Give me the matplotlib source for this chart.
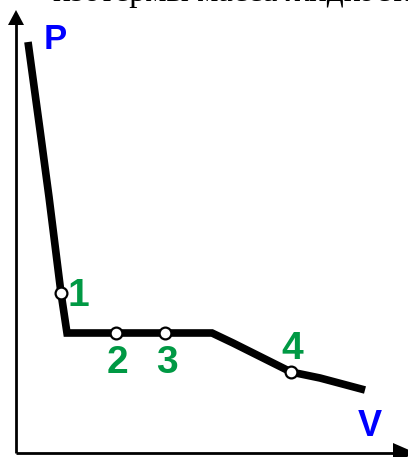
import matplotlib
matplotlib.use("Agg")
import matplotlib.pyplot as plt

curve_V = [12, 24, 33, 40, 45, 51, 196, 217, 237, 275, 304, 349]
curve_P = [411, 323, 256, 200, 160, 120, 120, 110, 100, 81, 75, 63]

state_names = ["1", "2", "3", "4"]
state_V = [45, 100, 149, 275]
state_P = [160, 120, 120, 81]

# where the state numbers sit (centre x, baseline)
label_V = [62, 101, 151, 276]
label_P = [147, 80, 80, 94]

header = "изотермы масса жидкости и пара"

GREEN = "#009944"
BLUE = "#0000ff"

fig = plt.figure(figsize=(4.08, 4.57), dpi=100)
ax = fig.add_axes([0, 0, 1, 1])
ax.set_xlim(-16, 392)
ax.set_ylim(-4, 453)
ax.axis("off")

# axes with arrow heads
P_TOP = 443
V_END = 400
ax.plot([0, 0], [0, 430], color="black", lw=2, solid_capstyle="butt")
ax.fill([0, -8, 8], [P_TOP, 428, 428], color="black", lw=0)
ax.plot([0, 380], [0, 0], color="black", lw=2, solid_capstyle="butt")
ax.fill([V_END, 377, 377], [0, 10, -10], color="black", lw=0, clip_on=False)

# the isotherm
ax.plot(curve_V, curve_P, color="black", lw=5.5, solid_joinstyle="miter",
        solid_capstyle="butt")
ax.plot(state_V, state_P, "o", ms=8.5, mfc="white", mec="black", mew=1.6)

for name, x, y in zip(state_names, label_V, label_P):
    ax.text(x, y, name, color=GREEN, fontsize=28, fontweight="bold",
            family=["Liberation Sans Narrow", "Liberation Sans", "DejaVu Sans"],
            ha="center", va="baseline")

ax.text(39, 404, "P", color=BLUE, fontsize=25, fontweight="bold",
        family=["Liberation Sans", "DejaVu Sans"], ha="center", va="baseline")
ax.text(354, 17, "V", color=BLUE, fontsize=26, fontweight="bold",
        family=["Liberation Sans", "DejaVu Sans"], ha="center", va="baseline")

# cut-off caption line above the figure
ax.text(37, 452.5, header, color="black", fontsize=24,
        family=["Liberation Serif", "DejaVu Serif"], ha="left", va="baseline",
        clip_on=False)

fig.savefig("out.png", dpi=100)
